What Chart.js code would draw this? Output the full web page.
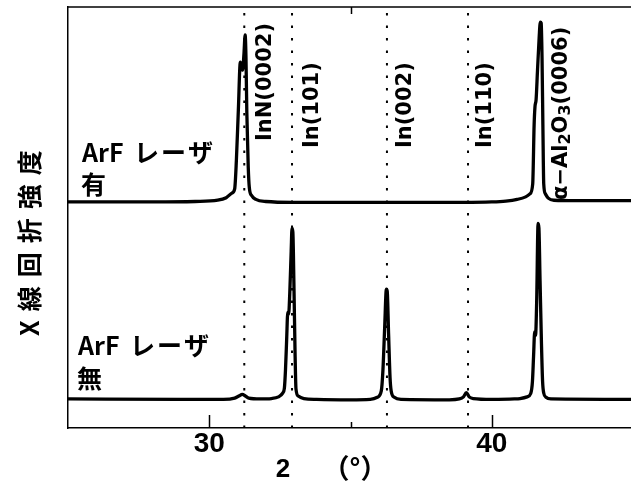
<!DOCTYPE html>
<html>
<head>
<meta charset="utf-8">
<script src="https://cdn.jsdelivr.net/npm/chart.js@4/dist/chart.umd.min.js"></script>
<style>
  html, body { margin: 0; padding: 0; background: #fff; overflow: hidden; }
  #wrap { width: 640px; height: 502px; }
</style>
</head>
<body>
<div id="wrap"><canvas id="xrd" width="640" height="502"></canvas></div>
<script>
// 2θ range and axis ticks
const twoThetaRange = [25, 45];
const tickValues = [30, 35, 40];
const tickLabels = ['30', '', '40'];
const topTickValues = [35];

// reflection markers (dotted lines) and their names
const markerNames = ['InN(0002)', 'In(101)', 'In(002)', 'In(110)'];
const markerAngles = [31.24, 32.93, 36.29, 39.16];
const substrateAngle = 41.72;

// sample names
const sampleNames = ['ArF', 'ArF'];
const sampleSuffix = ['レーザ', 'レーザ'];
const sampleMarks = ['有', '無'];

// diffraction profile with ArF laser  [2θ, intensity]
const withLaser = [
  [25.00, 53.7], [28.00, 53.7], [29.50, 53.8], [30.30, 54.1], [30.60, 54.7],
  [30.80, 55.8], [30.90, 56.8], [30.96, 63.5], [31.03, 75.5], [31.10, 86.9],
  [31.14, 86.2], [31.18, 85.0], [31.23, 89.0], [31.27, 93.4], [31.30, 88.0],
  [31.33, 75.0], [31.38, 62.0], [31.42, 57.0], [31.50, 55.2], [31.65, 54.3],
  [32.00, 53.8], [33.00, 53.6], [36.00, 53.6], [39.00, 53.6], [40.00, 53.7],
  [40.50, 53.9], [40.90, 54.3], [41.20, 54.9], [41.35, 55.6], [41.45, 58.0],
  [41.50, 72.0], [41.53, 76.3], [41.57, 78.0], [41.62, 85.0], [41.68, 93.0],
  [41.72, 96.4], [41.75, 96.2], [41.78, 88.0], [41.81, 72.0], [41.84, 58.0],
  [41.90, 55.6], [42.00, 54.6], [42.20, 54.1], [43.00, 54.0], [45.00, 54.0]
];

// diffraction profile without ArF laser  [2θ, intensity]
const withoutLaser = [
  [25.00, 6.9], [29.00, 6.8], [30.50, 6.8], [30.90, 7.1], [31.05, 7.6],
  [31.17, 8.0], [31.28, 7.6], [31.40, 7.1], [31.80, 6.9], [32.20, 7.0],
  [32.45, 7.4], [32.60, 8.3], [32.66, 9.5], [32.70, 14.0], [32.74, 21.0],
  [32.78, 27.5], [32.81, 27.0], [32.85, 32.0], [32.90, 42.0], [32.93, 47.5],
  [32.96, 46.5], [33.00, 33.0], [33.04, 17.0], [33.07, 9.3], [33.15, 7.6],
  [33.35, 7.0], [33.80, 6.8], [35.00, 6.7], [35.70, 6.8], [35.95, 7.3],
  [36.09, 8.8], [36.15, 14.0], [36.21, 24.0], [36.27, 33.0], [36.30, 32.5],
  [36.35, 22.0], [36.40, 12.0], [36.44, 8.8], [36.55, 7.3], [36.80, 6.8],
  [38.50, 6.7], [38.85, 6.9], [39.00, 7.4], [39.10, 8.4], [39.20, 7.4],
  [39.35, 7.0], [40.00, 6.8], [40.80, 6.9], [41.00, 7.0], [41.25, 7.4],
  [41.38, 8.2], [41.44, 11.0], [41.48, 17.0], [41.52, 22.9], [41.55, 22.0],
  [41.59, 30.0], [41.64, 48.6], [41.67, 47.5], [41.71, 35.0], [41.76, 20.0],
  [41.80, 11.0], [41.84, 8.3], [41.92, 7.3], [42.10, 6.9], [45.00, 6.8]
];

const toPoints = arr => arr.map(([x, y]) => ({ x, y }));

const profileStyle = {
  borderColor: '#000',
  borderWidth: 3.3,
  pointRadius: 0,
  fill: false,
  cubicInterpolationMode: 'monotone',
  borderJoinStyle: 'round',
  borderCapStyle: 'round'
};

const datasets = [
  Object.assign({ data: toPoints(withLaser) }, profileStyle),
  Object.assign({ data: toPoints(withoutLaser) }, profileStyle)
];
markerAngles.forEach(a => {
  datasets.push({
    data: [{ x: a, y: 0 }, { x: a, y: 100 }],
    borderColor: '#000',
    borderWidth: 2,
    borderDash: [2.5, 10],
    pointRadius: 0,
    fill: false
  });
});

const JP = '"Noto Sans CJK JP", "Noto Sans", sans-serif';

// frame, inside ticks, labels and axis titles
const decorations = {
  id: 'decorations',
  afterDraw(chart) {
    const { ctx, chartArea: ca, scales: { x } } = chart;
    ctx.save();
    ctx.strokeStyle = '#000';
    ctx.fillStyle = '#000';

    // top frame line
    ctx.lineWidth = 1.5;
    ctx.beginPath();
    ctx.moveTo(ca.left, ca.top);
    ctx.lineTo(ca.right, ca.top);
    ctx.stroke();

    // inside ticks
    tickValues.forEach((v, i) => {
      const px = Math.round(x.getPixelForValue(v)) + 0.5;
      const len = tickLabels[i] ? 13 : 6;
      ctx.beginPath();
      ctx.moveTo(px, ca.bottom);
      ctx.lineTo(px, ca.bottom - len);
      ctx.stroke();
    });
    topTickValues.forEach(v => {
      const px = Math.round(x.getPixelForValue(v)) + 0.5;
      ctx.beginPath();
      ctx.moveTo(px, ca.top);
      ctx.lineTo(px, ca.top + 7);
      ctx.stroke();
    });

    // reflection names, written upwards
    const bottoms = [141, 148, 148, 148];
    const offsets = [21, 21, 19, 18];
    ctx.font = 'bold 21px "DejaVu Sans", sans-serif';
    ctx.textBaseline = 'middle';
    ctx.textAlign = 'left';
    markerNames.forEach((name, i) => {
      const px = x.getPixelForValue(markerAngles[i]) + offsets[i];
      ctx.save();
      ctx.translate(px, bottoms[i]);
      ctx.rotate(-Math.PI / 2);
      ctx.fillText(name, 0, 0);
      ctx.restore();
    });

    // substrate reflection with subscripts
    ctx.save();
    ctx.translate(x.getPixelForValue(substrateAngle) + 21, 200);
    ctx.rotate(-Math.PI / 2);
    let cx = 0;
    const parts = [['α−Al', 0, 21], ['2', 5, 16], ['O', 0, 21], ['3', 5, 16], ['(0006)', 0, 21]];
    parts.forEach(([t, dy, size]) => {
      ctx.font = 'bold ' + size + 'px "DejaVu Sans", sans-serif';
      ctx.fillText(t, cx, dy);
      cx += ctx.measureText(t).width;
    });
    ctx.restore();

    // sample names
    ctx.textBaseline = 'alphabetic';
    ctx.textAlign = 'left';
    ctx.font = 'bold 25px ' + JP;
    ctx.fillText(sampleNames[0], 82, 162);
    ctx.fillText(sampleNames[1], 78, 355);
    ctx.fillText(sampleMarks[0], 81, 194);
    ctx.fillText(sampleMarks[1], 77, 388);
    if ('letterSpacing' in ctx) ctx.letterSpacing = '2px';
    ctx.fillText(sampleSuffix[0], 134, 162);
    ctx.fillText(sampleSuffix[1], 130, 355);
    if ('letterSpacing' in ctx) ctx.letterSpacing = '0px';

    // y-axis title
    ctx.save();
    ctx.translate(29, 336);
    ctx.rotate(-Math.PI / 2);
    ctx.font = 'bold 25px ' + JP;
    ctx.textAlign = 'left';
    ctx.textBaseline = 'middle';
    if ('letterSpacing' in ctx) ctx.letterSpacing = '9px';
    ctx.fillText('X線回折強度', 0, 0);
    ctx.restore();

    // x-axis title
    ctx.textAlign = 'center';
    ctx.textBaseline = 'middle';
    ctx.font = 'bold 26px "Liberation Sans", Arial, sans-serif';
    ctx.fillText('2', 283, 470);
    ctx.font = 'bold 27px ' + JP;
    ctx.fillText('（°）', 355, 468);

    ctx.restore();
  }
};

new Chart(document.getElementById('xrd'), {
  type: 'line',
  data: { datasets },
  options: {
    responsive: false,
    animation: false,
    devicePixelRatio: 1,
    layout: { padding: { left: 68, right: 7, top: 7, bottom: 44 } },
    plugins: { legend: { display: false }, tooltip: { enabled: false } },
    scales: {
      x: {
        type: 'linear',
        min: twoThetaRange[0],
        max: twoThetaRange[1],
        afterBuildTicks: axis => { axis.ticks = tickValues.map(v => ({ value: v })); },
        afterFit: axis => { axis.height = 30; },
        grid: { display: false, drawTicks: false, tickLength: 0 },
        border: { display: true, color: '#000', width: 1.5 },
        ticks: {
          autoSkip: false,
          maxRotation: 0,
          padding: -1,
          color: '#000',
          font: { family: '"Liberation Sans", Arial, sans-serif', weight: 'bold', size: 28 },
          callback: v => tickLabels[tickValues.indexOf(v)] || ''
        }
      },
      y: {
        type: 'linear',
        min: 0,
        max: 100,
        grid: { display: false, drawTicks: false, tickLength: 0 },
        border: { display: true, color: '#000', width: 1.5 },
        ticks: { display: false }
      }
    }
  },
  plugins: [decorations]
});
</script>
</body>
</html>
